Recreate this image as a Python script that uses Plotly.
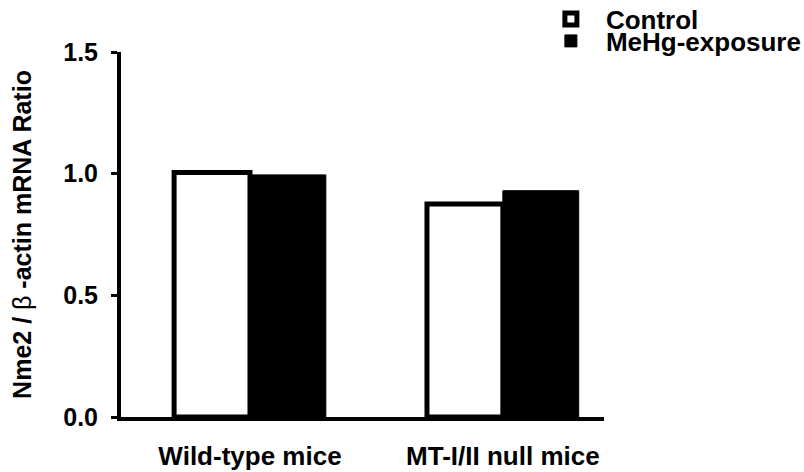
import plotly.graph_objects as go

categories = ["Wild-type mice", "MT-I/II null mice"]
control = [1.005, 0.875]
mehg = [0.995, 0.93]
y_ticks = [0.0, 0.5, 1.0, 1.5]
y_tick_labels = ["0.0", "0.5", "1.0", "1.5"]

FONT = "Liberation Sans, Arial, Helvetica, sans-serif"

fig = go.Figure()
fig.add_trace(go.Bar(
    name="Control", x=categories, y=control,
    marker=dict(color="white", line=dict(color="black", width=5)),
    legend="legend",
))
fig.add_trace(go.Bar(
    name="MeHg-exposure", x=categories, y=mehg,
    marker=dict(color="black", line=dict(color="black", width=1)),
    legend="legend2",
))

leg_common = dict(xanchor="left", yanchor="middle",
                  font=dict(family=FONT, size=26, weight="bold", color="black"),
                  itemwidth=60, bgcolor="rgba(0,0,0,0)", borderwidth=0)

fig.update_layout(
    width=804, height=472,
    margin=dict(l=121, r=200, t=52, b=55, autoexpand=False),
    paper_bgcolor="white", plot_bgcolor="white",
    barmode="group", bargap=0.4, bargroupgap=0,
    font=dict(family=FONT, size=25, color="black", weight="bold"),
    legend=dict(x=0.859, y=1 + 33 / 365, **leg_common),
    legend2=dict(x=0.859, y=1 + 11 / 365, **leg_common),
    showlegend=True,
)
fig.update_xaxes(
    range=[-0.51, 1.40], showline=True, linecolor="black", linewidth=4,
    ticks="", showgrid=False, zeroline=False, ticklabelstandoff=13,
    tickfont=dict(size=26, weight="bold"),
)
fig.update_yaxes(
    range=[0, 1.5], tickvals=y_ticks, ticktext=y_tick_labels,
    showline=True, linecolor="black", linewidth=4,
    ticks="outside", ticklen=6, tickwidth=3, tickcolor="black",
    showgrid=False, zeroline=False, ticklabelstandoff=8,
    tickfont=dict(size=25, weight="bold"),
    title=dict(text="Nme2 / <span style='font-weight:normal'>β</span> -actin mRNA Ratio",
               font=dict(size=25, weight="bold"), standoff=25),
)
fig.write_html("out.html",
               config={"displayModeBar": False},
               post_script="document.body.style.margin='0';document.body.style.overflow='hidden';")
